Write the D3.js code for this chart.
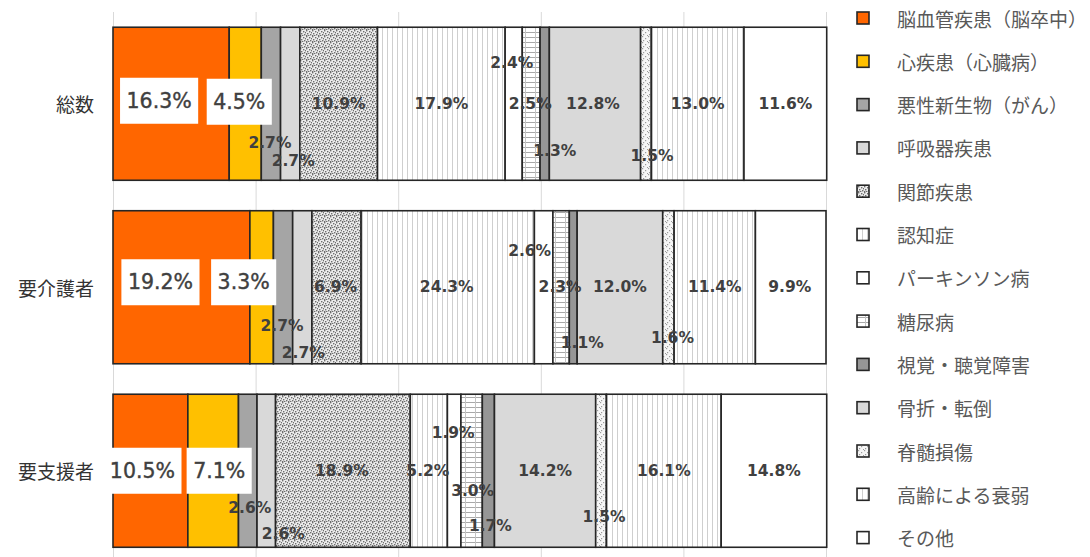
<!DOCTYPE html>
<html><head><meta charset="utf-8">
<script src="https://cdn.jsdelivr.net/npm/d3@7"></script>
<style>body{margin:0;background:#fff}svg{display:block}</style>
</head><body>
<svg id="c" width="1090" height="557"></svg>
<script>
const categories = ["総数", "要介護者", "要支援者"];
const seriesNames = ["脳血管疾患（脳卒中）","心疾患（心臓病）","悪性新生物（がん）","呼吸器疾患","関節疾患","認知症","パーキンソン病","糖尿病","視覚・聴覚障害","骨折・転倒","脊髄損傷","高齢による衰弱","その他"];
const valuesTotal   = [16.3, 4.5, 2.7, 2.7, 10.9, 17.9, 2.4, 2.5, 1.3, 12.8, 1.5, 13.0, 11.6];
const valuesCare    = [19.2, 3.3, 2.7, 2.7, 6.9, 24.3, 2.6, 2.3, 1.1, 12.0, 1.6, 11.4, 9.9];
const valuesSupport = [10.5, 7.1, 2.6, 2.6, 18.9, 5.2, 1.9, 3.0, 1.7, 14.2, 1.5, 16.1, 14.8];
const xTicks = [0, 20, 40, 60, 80, 100];

// layout: label nudges [dx, dy] per category / series (positions, not data)
const labelNudges = [
  [[-12,-3],[-6,-2],[-1,39],[3,57],[0,0],[0,0],[-2,-41],[-1,0],[10,47],[-2,0],[6,52],[0,0],[0,0]],
  [[-21,-5],[-18,-5],[-1,39],[1,66],[-1,0],[-1,0],[-14,-36],[-1,0],[9,56],[0,0],[4,51],[0,0],[-1,0]],
  [[-8,0],[6,0],[2,37],[17,63],[-1,0],[-1,0],[-1,-38],[1,20],[2,55],[0,0],[3,46],[0,0],[0,0]]
];
const fills = ["#ff6600","#ffc000","#a5a5a5","#d9d9d9","url(#pDots)","url(#pVert)","#ffffff","url(#pGrid)","#969696","#d9d9d9","url(#pDots2)","url(#pVert)","#ffffff"];

const allValues = [valuesTotal, valuesCare, valuesSupport];
const svg = d3.select("#c");
const defs = svg.append("defs");

// patterns
const pd = defs.append("pattern").attr("id","pDots").attr("patternUnits","userSpaceOnUse").attr("width",6).attr("height",6);
pd.append("rect").attr("width",6).attr("height",6).attr("fill","#ececec");
[[0,0],[3,1],[1,3],[4,4],[2,5],[5,2],[0,5]].forEach(([x,y])=>pd.append("rect").attr("x",x).attr("y",y).attr("width",1.4).attr("height",1.4).attr("fill","#6e6e6e"));
const pd2 = defs.append("pattern").attr("id","pDots2").attr("patternUnits","userSpaceOnUse").attr("width",6).attr("height",6);
pd2.append("rect").attr("width",6).attr("height",6).attr("fill","#f6f6f6");
[[0,0],[3,2],[1,4],[5,5]].forEach(([x,y])=>pd2.append("rect").attr("x",x).attr("y",y).attr("width",1.2).attr("height",1.2).attr("fill","#9a9a9a"));
const pv = defs.append("pattern").attr("id","pVert").attr("patternUnits","userSpaceOnUse").attr("width",5).attr("height",5);
pv.append("rect").attr("width",5).attr("height",5).attr("fill","#ffffff");
pv.append("rect").attr("x",2).attr("width",1).attr("height",5).attr("fill","#cfcfcf");
const pg = defs.append("pattern").attr("id","pGrid").attr("patternUnits","userSpaceOnUse").attr("width",10).attr("height",5);
pg.append("rect").attr("width",10).attr("height",5).attr("fill","#ffffff");
pg.append("rect").attr("y",2).attr("width",10).attr("height",1).attr("fill","#a8a8a8");
pg.append("rect").attr("x",5).attr("width",1).attr("height",5).attr("fill","#c4c4c4");

const x = d3.scaleLinear().domain([0,100]).range([113, 826]);
const y = d3.scaleBand().domain(categories).range([12, 562.5]).paddingInner(0.166).paddingOuter(0.083);

// gridlines
svg.append("g").attr("transform","translate(0,557)")
  .call(d3.axisBottom(x).tickValues(xTicks).tickSize(-545).tickFormat(""))
  .call(g=>g.select(".domain").remove())
  .call(g=>g.selectAll("line").attr("stroke","#d9d9d9").attr("stroke-width",1));

// stacked data
const rows = categories.map((c,i)=>{
  let acc = 0;
  return allValues[i].map((v,j)=>{ const d={cat:c, ci:i, si:j, v, x0:acc, x1:acc+v}; acc+=v; return d; });
});

const gBars = svg.append("g");
rows.forEach(r=>{
  gBars.selectAll(null).data(r).enter().append("rect")
    .attr("x",d=>x(d.x0)).attr("width",d=>x(d.x1)-x(d.x0))
    .attr("y",d=>y(d.cat)).attr("height",y.bandwidth())
    .attr("fill",d=>fills[d.si])
    .attr("stroke","#262626").attr("stroke-width",1.6);
});

// category labels
svg.append("g").selectAll("text").data(categories).enter().append("text")
  .attr("x",94).attr("y",d=>y(d)+y.bandwidth()/2)
  .attr("text-anchor","end").attr("dominant-baseline","central")
  .attr("font-family","'Noto Sans CJK JP', sans-serif").attr("font-size",19)
  .attr("fill","#333").text(d=>d);

// data labels
const gL = svg.append("g");
rows.forEach(r=>{
  r.forEach(d=>{
    const [dx,dy] = labelNudges[d.ci][d.si];
    const cx = (x(d.x0)+x(d.x1))/2 + dx;
    const cy = y(d.cat)+y.bandwidth()/2 + dy;
    const boxed = d.si < 2;
    const t = gL.append("text").attr("x",cx).attr("y",cy)
      .attr("text-anchor","middle").attr("dominant-baseline","central")
      .attr("font-family","'DejaVu Sans', Verdana, sans-serif")
      .attr("font-size", boxed ? 20.5 : 15.5)
      .attr("font-weight", boxed ? "normal" : "bold")
      .attr("fill","#404040").text(d.v.toFixed(1)+"%");
    if (boxed) {
      t.attr("stroke","#404040").attr("stroke-width",0.4);
      const b = t.node().getBBox();
      gL.insert("rect","text").attr("x",b.x-6.5).attr("y",cy-23).attr("width",b.width+13).attr("height",46).attr("fill","#fff");
    }
  });
});

// legend
const lg = svg.append("g");
seriesNames.forEach((n,i)=>{
  const cy = 18 + i*43.3;
  lg.append("rect").attr("x",857).attr("y",cy-6).attr("width",12).attr("height",12)
    .attr("fill",fills[i]).attr("stroke","#262626").attr("stroke-width",1.6);
  lg.append("text").attr("x",897).attr("y",cy).attr("dominant-baseline","central")
    .attr("font-family","'Noto Sans CJK JP', sans-serif").attr("font-size",19)
    .attr("fill","#595959").text(n);
});
</script>
</body></html>
